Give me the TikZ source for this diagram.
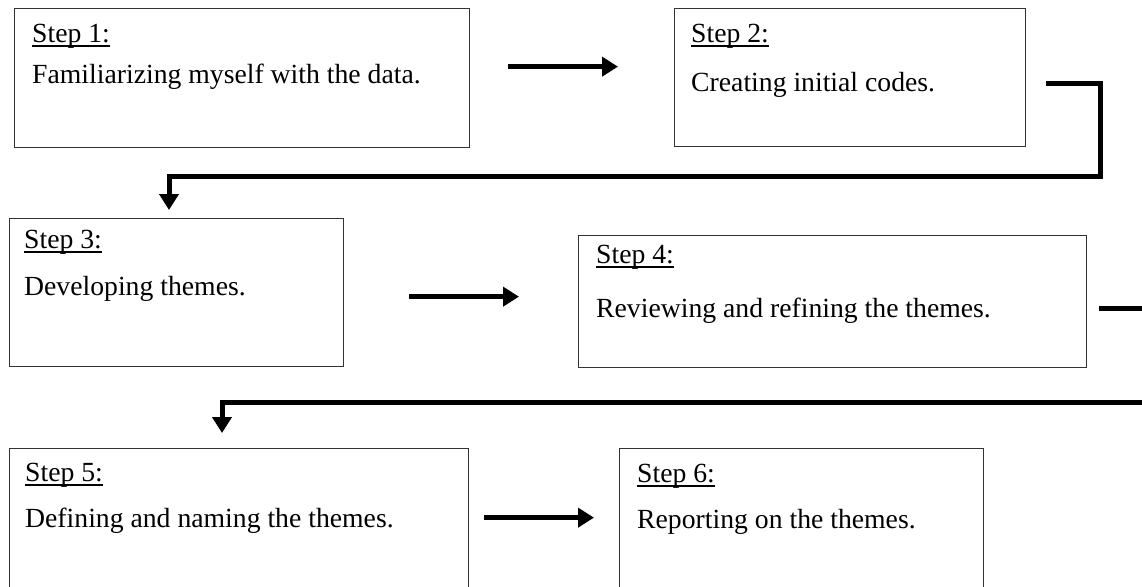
\documentclass[tikz,border=0pt]{standalone}
\usepackage{fontspec}
\setmainfont{Liberation Serif}
\usetikzlibrary{arrows.meta}

\newcommand{\stepul}[1]{\setbox0=\hbox{#1}\rlap{\rule[-4.5pt]{\wd0}{1.3pt}}\box0}

\begin{document}
\begin{tikzpicture}[x=1pt, y=1pt,
    stepbox/.style={rectangle, draw=black!80, line width=1.3pt, anchor=north west, inner sep=0pt},
    steplabel/.style={anchor=base west, inner sep=0pt, font=\fontsize{27.7}{33}\selectfont},
    arrow/.style={line width=5pt, -{Triangle[length=16pt, width=19pt]}}]

\useasboundingbox (0,0) rectangle (1142,-586);

\node [stepbox, minimum width=455pt, minimum height=139pt] (s1) at (14,-8) {};
\node [stepbox, minimum width=351pt, minimum height=138pt] (s2) at (674,-8) {};
\node [stepbox, minimum width=334pt, minimum height=148pt] (s3) at (9,-218) {};
\node [stepbox, minimum width=508pt, minimum height=132pt] (s4) at (578,-235) {};
\node [stepbox, minimum width=459pt, minimum height=142pt] (s5) at (9,-448) {};
\node [stepbox, minimum width=364pt, minimum height=142pt] (s6) at (619,-448) {};

% titles and texts
\node [steplabel] (l1) at ([shift={(18,-34)}]s1.north west) {\stepul{Step 1:}};
\node [steplabel] (d1) at ([yshift=-41]l1.base west) {Familiarizing myself with the data.};

\node [steplabel] (l2) at ([shift={(17,-34)}]s2.north west) {\stepul{Step 2:}};
\node [steplabel] (d2) at ([yshift=-49]l2.base west) {Creating initial codes.};

\node [steplabel] (l3) at ([shift={(15,-30)}]s3.north west) {\stepul{Step 3:}};
\node [steplabel] (d3) at ([yshift=-47]l3.base west) {Developing themes.};

\node [steplabel] (l4) at ([shift={(18,-28)}]s4.north west) {\stepul{Step 4:}};
\node [steplabel] (d4) at ([yshift=-54]l4.base west) {Reviewing and refining the themes.};

\node [steplabel] (l5) at ([shift={(16,-33)}]s5.north west) {\stepul{Step 5:}};
\node [steplabel] (d5) at ([yshift=-46]l5.base west) {Defining and naming the themes.};

\node [steplabel] (l6) at ([shift={(18,-34)}]s6.north west) {\stepul{Step 6:}};
\node [steplabel] (d6) at ([yshift=-46]l6.base west) {Reporting on the themes.};

% connectors
\draw [arrow] ([shift={(38,11.5)}]s1.east) -- ([shift={(-56,11)}]s2.west);
\draw [arrow] ([shift={(20,-6)}]s2.east) -- ++(54,0) -- ++(0,-93) -| ([shift={(160,8)}]s3.north west);
\draw [arrow] ([shift={(65,-4)}]s3.east) -- ([shift={(-59,5)}]s4.west);
\draw [arrow] ([shift={(12,-7)}]s4.east) -- ++(60,0) -- ++(0,-94) -| ([shift={(213,15)}]s5.north west);
\draw [arrow] ([shift={(15,2)}]s5.east) -- ([shift={(-25,2)}]s6.west);

\end{tikzpicture}
\end{document}
